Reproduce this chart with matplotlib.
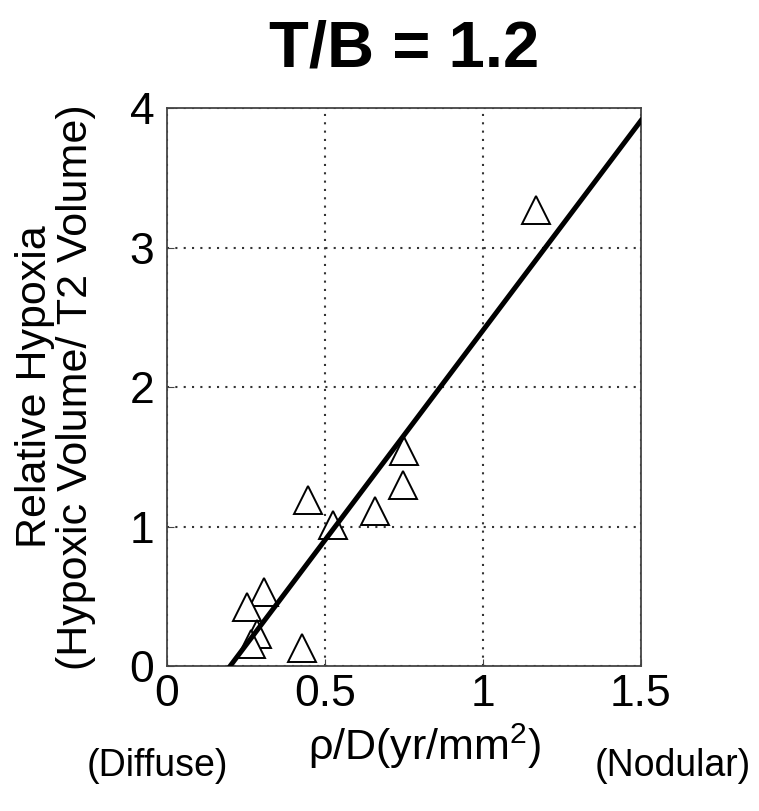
import numpy as np
import matplotlib
matplotlib.use("Agg")
import matplotlib.pyplot as plt

plt.rcParams['font.family'] = ['Liberation Sans', 'DejaVu Sans']
plt.rcParams['mathtext.fontset'] = 'custom'
plt.rcParams['mathtext.rm'] = 'Liberation Sans'
plt.rcParams['mathtext.it'] = 'Liberation Sans:italic'

# measured points (rho/D vs relative hypoxia)
rho_d = [0.75, 0.746, 0.658, 0.445, 0.524, 0.307, 0.253, 0.284, 0.265, 0.427, 1.167]
hypoxia = [1.54, 1.30, 1.11, 1.19, 1.01, 0.53, 0.42, 0.23, 0.16, 0.13, 3.27]

# fitted line end points
fit_x = [0.2, 1.5]
fit_y = [0.0, 3.91]

xticks = [0, 0.5, 1, 1.5]
xticklabels = ['0', '0.5', '1', '1.5']
yticks = [0, 1, 2, 3, 4]

fig = plt.figure(figsize=(7.59, 8.11), dpi=100)
ax = fig.add_axes([0.22, 0.1788, 0.6245, 0.688])

ax.plot(fit_x, fit_y, color='black', lw=3.6, zorder=3)
ax.plot(rho_d, hypoxia, linestyle='none', marker='^', ms=20,
        markerfacecolor='white', markeredgecolor='black', mew=1.4, zorder=2)

ax.set_xlim(0, 1.5)
ax.set_ylim(0, 4)
ax.set_xticks(xticks)
ax.set_xticklabels(xticklabels)
ax.set_yticks(yticks)
ax.grid(True, linestyle=(0, (1, 3)), color='#333333', lw=1.5)
ax.tick_params(direction='in', length=5, labelsize=32, pad=6, color='#444444')
ax.tick_params(axis='y', pad=9)
for s in ax.spines.values():
    s.set_color('#444444')
    s.set_linewidth(1.3)

ax.set_title('T/B = 1.2', fontsize=47, fontweight='bold', pad=30)
ax.set_ylabel('Relative Hypoxia\n(Hypoxic Volume/ T2 Volume)', fontsize=31, labelpad=24,
              linespacing=1.05)

fig.text(0.560, 0.080, r'ρ/D(yr/mm$^{2}$)', fontsize=31, ha='center', va='center')
fig.text(0.207, 0.056, '(Diffuse)', fontsize=27, ha='center', va='center')
fig.text(0.886, 0.056, '(Nodular)', fontsize=27, ha='center', va='center')

fig.savefig('out.png', dpi=100)
